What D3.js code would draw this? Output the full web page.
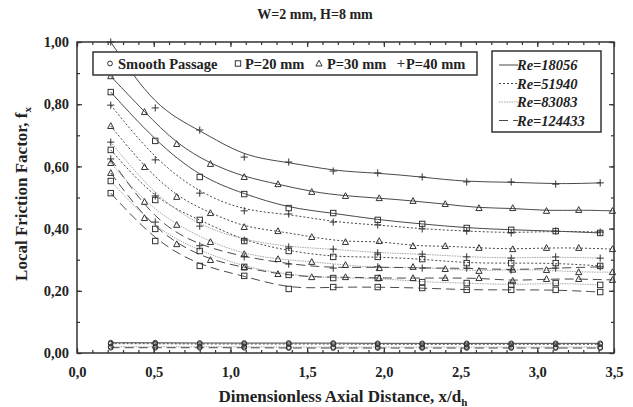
<!DOCTYPE html>
<html>
<head>
<meta charset="utf-8">
<script src="https://cdn.jsdelivr.net/npm/d3@7"></script>
<style>
  body { margin: 0; background: #fff; }
  text { font-family: "Liberation Serif"; font-weight: bold; fill: #222; }
</style>
</head>
<body>
<div id="chart"></div>
<script>
// Reynolds numbers (one line style each)
const reynolds = ["18056", "51940", "83083", "124433"];

// axial positions of the measuring stations
const xP20 = [0.22, 0.51, 0.80, 1.09, 1.38, 1.67, 1.96, 2.25, 2.54, 2.83, 3.12, 3.41];
const xP30 = [0.22, 0.44, 0.65, 0.87, 1.09, 1.31, 1.53, 1.75, 1.97, 2.19, 2.40, 2.62, 2.84, 3.06, 3.27, 3.49];
const xP40 = [0.22, 0.51, 0.80, 1.09, 1.38, 1.67, 1.96, 2.25, 2.54, 2.83, 3.12, 3.41];
const xSmooth = [0.22, 0.51, 0.80, 1.09, 1.38, 1.67, 1.96, 2.25, 2.54, 2.83, 3.12, 3.41];

// local friction factor, one row per Re
const fSmooth = [
  [0.033, 0.033, 0.032, 0.032, 0.032, 0.032, 0.031, 0.031, 0.031, 0.031, 0.031, 0.031],
  [0.030, 0.030, 0.029, 0.029, 0.029, 0.029, 0.028, 0.028, 0.028, 0.028, 0.028, 0.028],
  [0.020, 0.020, 0.020, 0.020, 0.019, 0.019, 0.019, 0.019, 0.019, 0.019, 0.019, 0.019],
  [0.017, 0.017, 0.017, 0.017, 0.016, 0.016, 0.016, 0.016, 0.016, 0.016, 0.016, 0.016]
];
const fP20 = [
  [0.839, 0.682, 0.566, 0.511, 0.466, 0.450, 0.428, 0.415, 0.402, 0.396, 0.392, 0.386],
  [0.653, 0.492, 0.428, 0.360, 0.328, 0.309, 0.309, 0.302, 0.289, 0.289, 0.289, 0.280],
  [0.553, 0.399, 0.328, 0.277, 0.251, 0.241, 0.241, 0.228, 0.225, 0.219, 0.225, 0.219],
  [0.514, 0.360, 0.280, 0.248, 0.206, 0.212, 0.212, 0.209, 0.203, 0.203, 0.203, 0.196]
];
const fP30 = [
  [0.890, 0.775, 0.672, 0.608, 0.566, 0.543, 0.518, 0.505, 0.498, 0.489, 0.479, 0.466, 0.466, 0.457, 0.460, 0.457],
  [0.730, 0.598, 0.502, 0.450, 0.405, 0.392, 0.373, 0.357, 0.360, 0.344, 0.344, 0.338, 0.334, 0.338, 0.338, 0.334],
  [0.611, 0.486, 0.412, 0.357, 0.318, 0.302, 0.293, 0.283, 0.273, 0.277, 0.270, 0.264, 0.268, 0.267, 0.260, 0.260],
  [0.579, 0.434, 0.350, 0.299, 0.275, 0.254, 0.244, 0.244, 0.241, 0.241, 0.241, 0.241, 0.232, 0.238, 0.238, 0.235]
];
const fP40 = [
  [1.000, 0.788, 0.717, 0.630, 0.614, 0.585, 0.579, 0.566, 0.550, 0.550, 0.543, 0.547],
  [0.797, 0.621, 0.514, 0.457, 0.447, 0.421, 0.412, 0.399, 0.392, 0.386, 0.392, 0.389],
  [0.678, 0.505, 0.408, 0.363, 0.341, 0.334, 0.322, 0.318, 0.309, 0.305, 0.309, 0.305],
  [0.624, 0.421, 0.345, 0.309, 0.286, 0.273, 0.277, 0.273, 0.273, 0.267, 0.273, 0.277]
];

const xTicks = [0, 0.5, 1.0, 1.5, 2.0, 2.5, 3.0, 3.5];
const yTicks = [0, 0.2, 0.4, 0.6, 0.8, 1.0];

const serif = '"Liberation Serif"';

const width = 633, height = 407;
const svg = d3.select("#chart").append("svg").attr("width", width).attr("height", height);
svg.append("rect").attr("width", width).attr("height", height).attr("fill", "#fff");

const x = d3.scaleLinear().domain([0, 3.5]).range([77, 614]);
const y = d3.scaleLinear().domain([0, 1]).range([353, 42]);

// line style per Re
const lineStyle = [
  { stroke: "#4a4a4a", dash: null },
  { stroke: "#4a4a4a", dash: "2,2" },
  { stroke: "#a8a8a8", dash: "1.5,1" },
  { stroke: "#4a4a4a", dash: "9,5" }
];

svg.append("clipPath").attr("id", "plot")
  .append("rect").attr("x", x(0)).attr("y", y(1)).attr("width", x(3.5) - x(0)).attr("height", y(0) - y(1));

// marker shapes
const marker = {
  circle: (g) => g.append("circle").attr("r", 2.4),
  square: (g) => g.append("rect").attr("x", -2.7).attr("y", -2.7).attr("width", 5.4).attr("height", 5.4),
  triangle: (g) => g.append("path").attr("d", "M0,-3.3L3.1,2.5L-3.1,2.5Z"),
  plus: (g) => g.append("path").attr("d", "M-3.6,0H3.6M0,-3.6V3.6")
};

const groups = [
  { xs: xSmooth, rows: fSmooth, shape: "circle" },
  { xs: xP20, rows: fP20, shape: "square" },
  { xs: xP30, rows: fP30, shape: "triangle" },
  { xs: xP40, rows: fP40, shape: "plus" }
];

const line = d3.line().x(d => x(d[0])).y(d => y(d[1])).curve(d3.curveBasis);

const plot = svg.append("g").attr("clip-path", "url(#plot)");

groups.forEach(gr => {
  gr.rows.forEach((row, i) => {
    const pts = gr.xs.map((v, j) => [v, row[j]]);
    plot.append("path")
      .attr("d", line(pts))
      .attr("fill", "none")
      .attr("stroke", lineStyle[i].stroke)
      .attr("stroke-width", 1)
      .attr("stroke-dasharray", lineStyle[i].dash);
  });
});

groups.forEach(gr => {
  gr.rows.forEach(row => {
    gr.xs.forEach((v, j) => {
      const g = svg.append("g")
        .attr("transform", `translate(${x(v)},${y(row[j])})`)
        .attr("fill", "none").attr("stroke", "#333").attr("stroke-width", 1);
      marker[gr.shape](g);
    });
  });
});

// axes, ticks pointing inward
const fmtX = d => d3.format(".1f")(d).replace(".", ",");
const fmtY = d => d3.format(".2f")(d).replace(".", ",");
const xMinor = d3.range(0, 3.55, 0.1);
const yMinor = d3.range(0, 1.05, 0.1);

function styleAxis(g) {
  g.attr("font-family", null);
  g.select(".domain").remove();
  g.selectAll("line").attr("stroke", "#333").attr("stroke-width", 1.2);
  g.selectAll("text").style("font-family", serif).style("font-weight", "bold")
    .style("font-size", "14.5px").attr("fill", "#222");
}

svg.append("g").attr("transform", `translate(0,${y(0)})`)
  .call(d3.axisBottom(x).tickValues(xMinor).tickSize(-3).tickFormat("")).call(styleAxis);
svg.append("g").attr("transform", `translate(0,${y(0)})`)
  .call(d3.axisBottom(x).tickValues(xTicks).tickSize(-5).tickPadding(14).tickFormat(fmtX)).call(styleAxis);
svg.append("g").attr("transform", `translate(0,${y(1)})`)
  .call(d3.axisTop(x).tickValues(xMinor).tickSize(-3).tickFormat("")).call(styleAxis);
svg.append("g").attr("transform", `translate(0,${y(1)})`)
  .call(d3.axisTop(x).tickValues(xTicks).tickSize(-5).tickFormat("")).call(styleAxis);
svg.append("g").attr("transform", `translate(${x(0)},0)`)
  .call(d3.axisLeft(y).tickValues(yMinor).tickSize(-3).tickFormat("")).call(styleAxis);
svg.append("g").attr("transform", `translate(${x(0)},0)`)
  .call(d3.axisLeft(y).tickValues(yTicks).tickSize(-5).tickPadding(8).tickFormat(fmtY)).call(styleAxis);
svg.append("g").attr("transform", `translate(${x(3.5)},0)`)
  .call(d3.axisRight(y).tickValues(yMinor).tickSize(-3).tickFormat("")).call(styleAxis);
svg.append("g").attr("transform", `translate(${x(3.5)},0)`)
  .call(d3.axisRight(y).tickValues(yTicks).tickSize(-5).tickFormat("")).call(styleAxis);

svg.append("rect")
  .attr("x", x(0)).attr("y", y(1)).attr("width", x(3.5) - x(0)).attr("height", y(0) - y(1))
  .attr("fill", "none").attr("stroke", "#333").attr("stroke-width", 1.5);

// titles
svg.append("text").attr("x", 315).attr("y", 19).attr("text-anchor", "middle")
  .style("font-family", serif).style("font-size", "14px").text("W=2 mm, H=8 mm");

const xl = svg.append("text").attr("x", 343).attr("y", 402).attr("text-anchor", "middle")
  .style("font-family", serif).style("font-size", "17px");
xl.append("tspan").text("Dimensionless Axial Distance, x/d");
xl.append("tspan").attr("dy", 4).style("font-size", "11px").text("h");

const yl = svg.append("text").attr("transform", "translate(27,194) rotate(-90)").attr("text-anchor", "middle")
  .style("font-family", serif).style("font-size", "17px");
yl.append("tspan").text("Local Friction Factor, f");
yl.append("tspan").attr("dy", 4).style("font-size", "11px").text("x");

// legend: passage type
const leg1 = svg.append("g");
leg1.append("rect").attr("x", 93).attr("y", 52).attr("width", 384).attr("height", 23)
  .attr("fill", "#fff").attr("stroke", "#333").attr("stroke-width", 1.5);
const leg1Items = [
  { shape: "circle", label: "Smooth Passage", mx: 110, tx: 118 },
  { shape: "square", label: "P=20 mm", mx: 238, tx: 245 },
  { shape: "triangle", label: "P=30 mm", mx: 319, tx: 327 },
  { shape: "plus", label: "P=40 mm", mx: 401, tx: 406 }
];
leg1Items.forEach(it => {
  const g = leg1.append("g").attr("transform", `translate(${it.mx},63.5)`)
    .attr("fill", "none").attr("stroke", "#333").attr("stroke-width", 1);
  marker[it.shape](g);
  leg1.append("text").attr("x", it.tx).attr("y", 68.5)
    .style("font-family", serif).style("font-size", "14.5px").text(it.label);
});

// legend: Reynolds number
const leg2 = svg.append("g");
leg2.append("rect").attr("x", 492).attr("y", 51).attr("width", 109).attr("height", 81)
  .attr("fill", "#fff").attr("stroke", "#333").attr("stroke-width", 1.5);
reynolds.forEach((re, i) => {
  const cy = 65 + i * 18.5;
  leg2.append("line").attr("x1", 499).attr("x2", 518).attr("y1", cy).attr("y2", cy)
    .attr("stroke", lineStyle[i].stroke).attr("stroke-width", 1).attr("stroke-dasharray", lineStyle[i].dash);
  leg2.append("text").attr("x", 517).attr("y", cy + 5)
    .style("font-family", serif).style("font-size", "14.5px").style("font-style", "italic")
    .text("Re=" + re);
});
</script>
</body>
</html>
